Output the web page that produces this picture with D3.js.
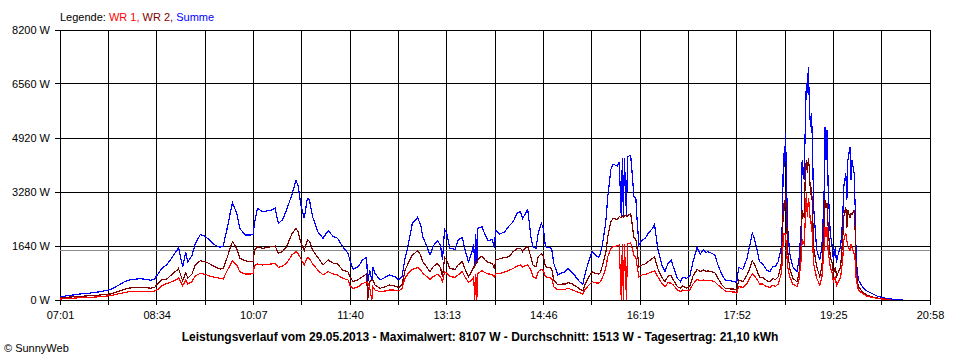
<!DOCTYPE html>
<html>
<head>
<meta charset="utf-8">
<script src="https://cdn.jsdelivr.net/npm/d3@7"></script>
<style>
  html, body { margin: 0; padding: 0; background: #fff; }
  svg { display: block; font-family: "Liberation Sans", Arial, sans-serif; }
</style>
</head>
<body>
<div id="chart"></div>
<script>
// Leistungsverlauf 29.05.2013 — readings taken from the SunnyWeb chart
const times = [
  "07:01","07:11","07:20","07:30","07:39","07:49","07:54","07:59","08:04","08:08",
  "08:18","08:23","08:28","08:32","08:35","08:39","08:44","08:49","08:54","08:55",
  "08:59","09:02","09:04","09:08","09:11","09:16","09:20","09:25","09:30","09:35",
  "09:38","09:42","09:45","09:47","09:51","09:54","09:59","10:04","10:07","10:08",
  "10:11","10:16","10:21","10:25","10:28","10:31","10:35","10:39","10:44","10:48",
  "10:50","10:53","10:56","10:59","11:01","11:04","11:09","11:14","11:19","11:24",
  "11:28","11:33","11:38","11:40","11:43","11:48","11:52","11:56","11:57","11:59",
  "12:01","12:02","12:04","12:09","12:14","12:18","12:23","12:27","12:30","12:33",
  "12:36","12:40","12:43","12:45","12:48","12:50","12:54","12:57","13:00","13:04",
  "13:07","13:09","13:11","13:13","13:16","13:21","13:24","13:28","13:31","13:34",
  "13:37","13:39","13:40","13:41","13:42","13:43","13:47","13:50","13:53","13:57",
  "13:59","14:00","14:04","14:09","14:13","14:17","14:21","14:24","14:26","14:28",
  "14:31","14:34","14:36","14:39","14:41","14:44","14:46","14:48","14:50","14:54",
  "14:56","15:00","15:04","15:07","15:10","15:14","15:16","15:18","15:21","15:24",
  "15:26","15:29","15:33","15:36","15:39","15:41","15:43","15:46","15:48","15:51",
  "15:53","15:57","15:59","16:01","16:02","16:03","16:04","16:06","16:07","16:10",
  "16:12","16:13","16:15","16:16","16:18","16:21","16:24","16:27","16:31","16:33",
  "16:36","16:40","16:43","16:46","16:49","16:51","16:55","16:58","17:00","17:04",
  "17:07","17:10","17:14","17:17","17:20","17:23","17:24","17:28","17:31","17:34",
  "17:38","17:41","17:46","17:50","17:52","17:54","17:58","18:02","18:05","18:07",
  "18:09","18:12","18:14","18:17","18:21","18:24","18:27","18:29","18:32","18:35",
  "18:36","18:37","18:38","18:39","18:40","18:41","18:43","18:46","18:50","18:52",
  "18:54","18:55","18:57","18:58","18:59","19:00","19:01","19:02","19:03","19:04",
  "19:05","19:06","19:09","19:12","19:14","19:16","19:17","19:18","19:19","19:20",
  "19:22","19:24","19:25","19:27","19:28","19:29","19:32","19:34","19:35","19:37",
  "19:38","19:39","19:41","19:42","19:43","19:45","19:46","19:47","19:49","19:53",
  "19:57","20:02","20:07","20:12","20:17","20:20","20:25","20:32"
];

// Summe (blue), W
const summe = [
  100,140,180,210,250,310,390,480,570,610,
  650,630,600,640,780,960,1080,1300,1530,1600,
  1010,1440,1160,1350,1700,1990,1945,1820,1670,1600,
  1640,2200,2680,2955,2630,2175,1975,1975,1990,2330,
  2785,2680,2710,2735,2785,2330,2430,2735,3190,3625,
  3490,2835,2480,3090,3035,2530,2075,1875,2105,1925,
  1875,1620,1420,1200,930,1010,1215,1295,540,900,
  600,990,810,610,690,760,710,610,710,1265,
  1670,2330,2430,2510,2280,1925,1620,1365,1640,1800,
  1670,1215,2145,2025,1570,1540,1820,1900,1470,1165,
  1420,1700,1000,2000,1100,2175,2225,1975,1800,1840,
  1570,2125,2000,2075,2245,2380,2650,2680,2480,2580,
  2750,1925,1620,1570,2025,2330,2175,1620,1600,1570,
  1115,760,830,860,960,810,760,660,555,485,
  760,1115,1470,1365,1295,1420,1720,2330,3140,3970,
  4130,4070,4200,2500,4300,2520,4320,2550,4350,4400,
  3645,3140,3090,2530,1670,1820,1875,2025,2175,2300,
  1570,1065,860,1115,1215,1010,660,555,690,660,
  730,1165,1600,1395,1520,1440,1470,1420,1365,1065,
  760,610,585,555,525,990,930,1265,1720,2025,
  1875,1470,1165,1095,910,860,1030,1010,1165,1620,
  2430,4455,4050,5060,3545,2225,1420,1010,860,1215,
  2225,4250,3645,5265,6580,6275,7085,5870,5265,5670,
  4655,2835,1520,1215,1620,3035,5265,4250,5165,3440,
  2025,1620,1215,1620,1115,1315,1620,2430,3440,3850,
  3035,4250,4635,3645,4250,3850,2835,1215,610,405,
  280,200,120,80,40,30,20,20
];

// WR 2 (dark red), W
const wr2 = [
  70,90,110,130,150,180,225,285,335,365,
  385,375,360,385,490,610,640,790,910,960,
  580,830,660,790,1065,1190,1170,1100,1010,940,
  960,1300,1620,1770,1570,1265,1195,1165,1180,1500,
  1620,1570,1600,1620,1640,1420,1470,1620,2000,2175,
  2075,1720,1500,1820,1780,1520,1295,1065,1215,1115,
  1095,910,860,700,555,620,710,790,0,560,
  600,610,455,355,405,455,425,385,455,910,
  1115,1365,1440,1500,1365,1165,990,860,1010,1115,
  990,710,1295,1215,960,930,1065,1165,910,710,
  860,1000,1000,1150,1100,1235,1335,1215,1135,1115,
  930,1215,1250,1290,1315,1470,1570,1570,1470,1570,
  1620,1315,1065,1010,1315,1395,1340,1010,990,960,
  610,455,485,485,525,485,440,405,325,280,
  455,660,860,810,790,830,1065,1420,1925,2380,
  2480,2450,2530,2500,2550,2520,2560,2550,2550,2630,
  2175,1900,1850,1620,1010,1065,1095,1165,1265,1315,
  960,690,555,730,740,610,405,355,425,355,
  425,730,930,860,910,860,890,860,830,660,
  455,355,335,330,305,610,555,760,990,1195,
  1095,860,690,690,585,555,660,610,710,1115,
  1820,2935,2700,3240,2530,1520,960,660,555,810,
  1620,2735,2500,3745,4250,3850,4300,3950,3200,3440,
  2735,1620,1010,710,1010,2225,3035,2800,2935,2225,
  1315,1115,810,1010,710,780,1010,1820,2530,2835,
  2200,2735,2500,2630,2600,2735,2100,810,405,250,
  150,100,60,40,20,15,null,null
];

// WR 1 (red), W
const wr1 = [
  30,50,70,80,100,130,165,200,235,250,
  270,265,250,270,320,440,500,560,640,680,
  430,610,480,560,730,810,785,730,690,660,
  640,900,1080,1190,1065,860,790,790,800,1050,
  1095,1065,1085,1095,1115,990,1030,1115,1365,1470,
  1420,1235,1065,1295,1265,1095,910,760,860,790,
  760,660,610,450,355,400,505,535,535,360,
  0,400,305,250,275,305,300,275,350,660,
  810,930,960,990,910,810,710,630,710,780,
  710,555,860,810,710,690,760,860,680,535,
  610,700,0,800,0,810,890,830,790,780,
  690,810,800,850,900,960,1030,1065,990,1030,
  1065,910,710,660,860,930,900,710,690,660,
  405,305,325,325,355,305,280,250,220,180,
  305,425,555,525,510,555,690,960,1315,1570,
  1620,1640,1670,0,1700,0,1710,0,1700,1740,
  1520,1365,1300,1065,710,760,780,810,860,890,
  710,505,405,525,510,455,305,250,305,280,
  305,485,630,585,610,585,585,580,555,455,
  355,275,250,240,200,405,385,505,690,790,
  730,610,485,485,405,385,455,405,485,810,
  1215,2025,2000,2025,1500,1010,710,485,405,610,
  1215,1820,1700,2430,3240,2530,3100,2835,2300,2400,
  1820,1115,660,455,700,1520,2225,1900,2225,1500,
  1010,810,555,710,405,500,700,1215,1820,2025,
  1800,1620,1500,1700,1600,1400,1215,610,305,200,
  120,80,50,30,20,10,null,null
];

const yTicks = [0, 1640, 3280, 4920, 6560, 8200];
const xTickLabels = ["07:01","08:34","10:07","11:40","13:13","14:46","16:19","17:52","19:25","20:58"];
const average = 1513;
const legendItems = [
  { label: "WR 1,", color: "#ff0000" },
  { label: "WR 2,", color: "#800000" },
  { label: "Summe", color: "#0000ff" }
];
const title = "Leistungsverlauf vom 29.05.2013 - Maximalwert: 8107 W - Durchschnitt: 1513 W - Tagesertrag: 21,10 kWh";

(function() {
  const width = 960, height = 360;
  const margin = { top: 30, right: 30, bottom: 60, left: 60 };
  const svg = d3.select("#chart").append("svg").attr("width", width).attr("height", height);

  const toMin = s => { const p = s.split(":"); return +p[0] * 60 + +p[1]; };
  const pad = d3.format("02d");
  const fmt = m => pad(Math.floor(m / 60)) + ":" + pad(Math.round(m % 60));

  const x = d3.scaleLinear()
    .domain([toMin(xTickLabels[0]), toMin(xTickLabels[xTickLabels.length - 1])])
    .range([margin.left, width - margin.right]);
  const y = d3.scaleLinear().domain([0, yTicks[yTicks.length - 1]]).range([height - margin.bottom, margin.top]);

  // labelled ticks + the unlabelled half-way lines between them
  const major = xTickLabels.map(toMin);
  const grid = [];
  major.forEach((m, i) => { grid.push(m); if (i < major.length - 1) grid.push((m + major[i + 1]) / 2); });

  const px = v => Math.floor(v) + 0.5;

  // Grid
  const gg = svg.append("g").attr("shape-rendering", "crispEdges").attr("stroke", "#000");
  gg.selectAll("line.v").data(grid).join("line").attr("class", "v")
    .attr("x1", d => px(x(d))).attr("x2", d => px(x(d)))
    .attr("y1", y(yTicks[yTicks.length - 1])).attr("y2", y(0) + 5);
  gg.selectAll("line.h").data(yTicks).join("line").attr("class", "h")
    .attr("x1", x.range()[0] - 5).attr("x2", x.range()[1] + 1)
    .attr("y1", d => px(y(d))).attr("y2", d => px(y(d)));

  // Average line
  svg.append("line").attr("shape-rendering", "crispEdges")
    .attr("x1", x.range()[0]).attr("x2", x.range()[1])
    .attr("y1", px(y(average))).attr("y2", px(y(average)))
    .attr("stroke", "#8c8c8c");

  // Axes (labels only, grid does the lines)
  const yAxis = svg.append("g").attr("transform", `translate(${margin.left},0)`)
    .call(d3.axisLeft(y).tickValues(yTicks).tickSize(5).tickPadding(5).tickFormat(d => d + " W"));
  const xAxis = svg.append("g").attr("transform", `translate(0,${y(0)})`)
    .call(d3.axisBottom(x).tickValues(grid).tickSize(5).tickPadding(6).tickFormat(d => major.includes(d) ? fmt(d) : ""));
  [yAxis, xAxis].forEach(a => {
    a.select(".domain").remove();
    a.selectAll(".tick line").remove();
    a.selectAll("text").attr("fill", "#000").attr("font-size", 11).attr("font-family", "Liberation Sans, Arial, sans-serif");
  });

  // Series — aliased 1px lines like the original GDI drawing
  const rows = times.map((t, i) => ({ t: toMin(t), s: summe[i], w1: wr1[i], w2: wr2[i] }));
  const series = [
    { key: "s", color: "#0000ff" },
    { key: "w2", color: "#800000" },
    { key: "w1", color: "#ff0000" }
  ];
  series.forEach(sr => {
    const line = d3.line().defined(d => d[sr.key] != null)
      .x(d => x(d.t)).y(d => y(d[sr.key]));
    svg.append("path").datum(rows).attr("d", line)
      .attr("fill", "none").attr("stroke", sr.color).attr("stroke-width", 1.2)
      .attr("shape-rendering", "crispEdges");
  });

  // Legend
  const lg = svg.append("text").attr("x", margin.left).attr("y", 21).attr("font-size", 11);
  lg.append("tspan").attr("fill", "#000").text("Legende: ");
  legendItems.forEach((it, i) => lg.append("tspan").attr("fill", it.color).text((i ? " " : "") + it.label));

  // Title + footer
  svg.append("text").attr("x", 480).attr("y", 341).attr("text-anchor", "middle")
    .attr("font-size", 12).attr("font-weight", 700).text(title);
  svg.append("text").attr("x", 4).attr("y", 352).attr("font-size", 11).text("\u00a9 SunnyWeb");
})();
</script>
</body>
</html>
